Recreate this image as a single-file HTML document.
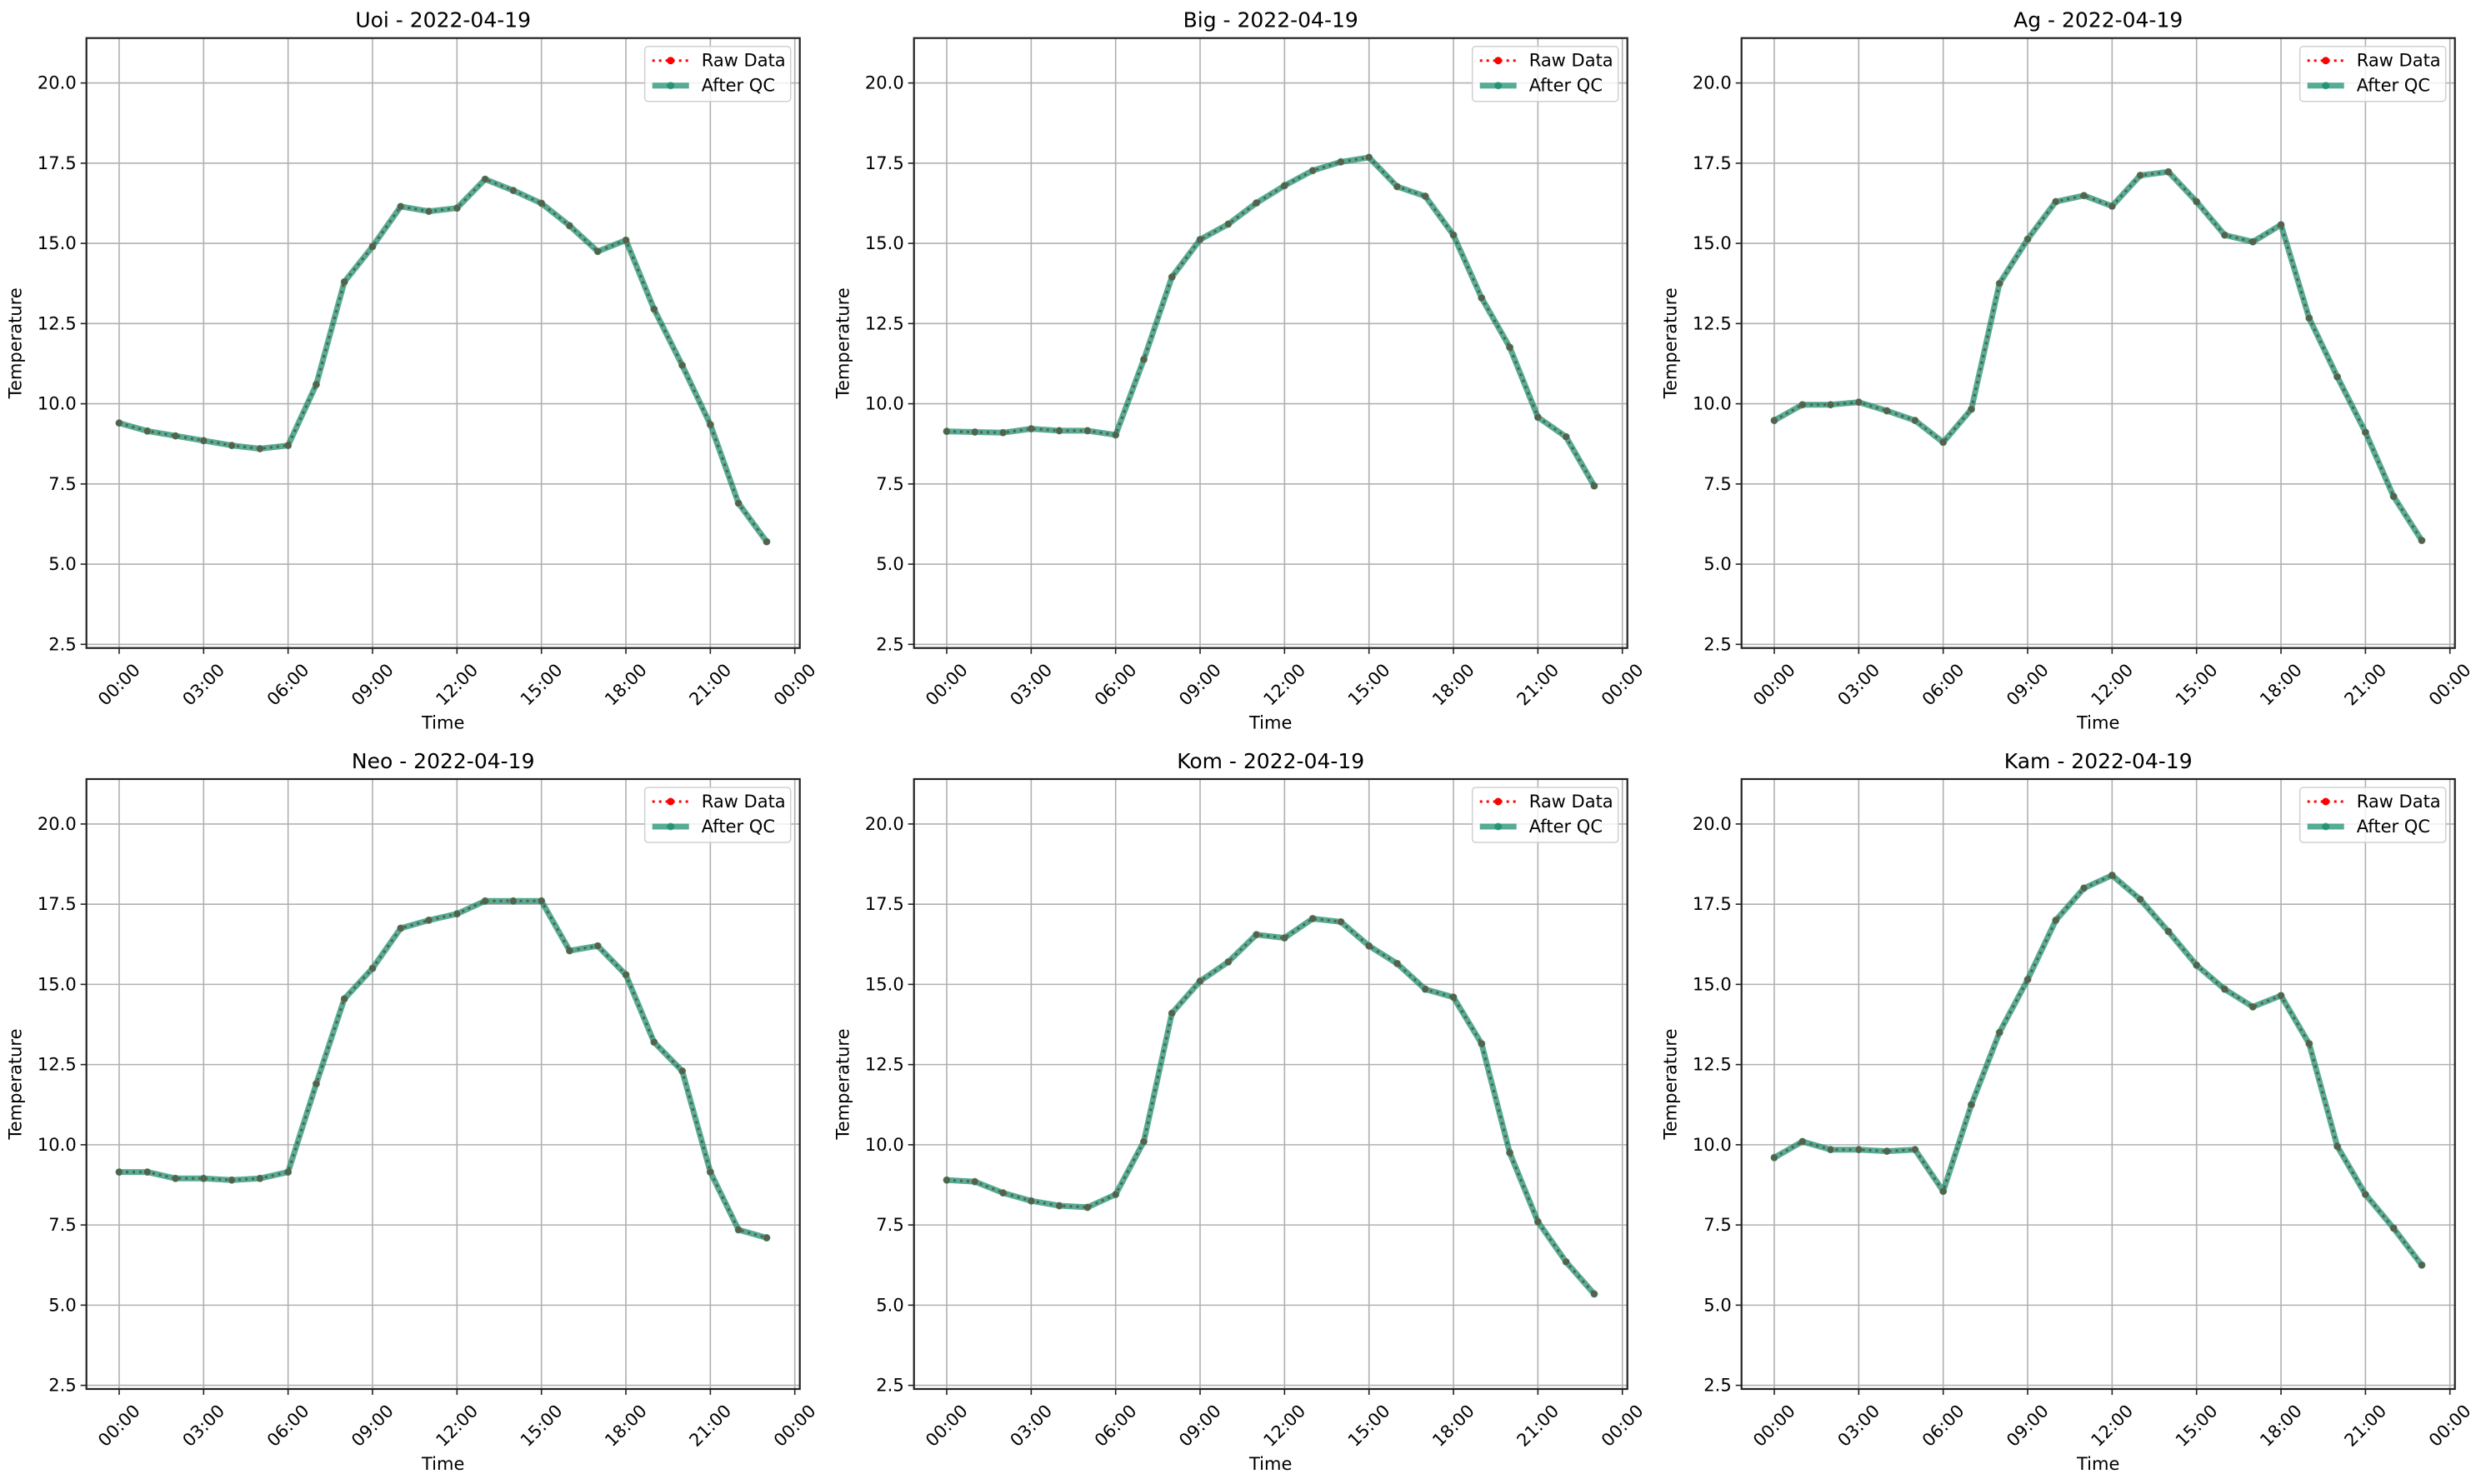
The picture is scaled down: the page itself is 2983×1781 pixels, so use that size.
<!DOCTYPE html>
<html><head><meta charset="utf-8"><style>
html,body{margin:0;padding:0;background:#fff;}
svg{display:block;font-family:"DejaVu Sans","Liberation Sans",sans-serif;}
</style></head><body>
<svg id="fig" width="2983" height="1781" viewBox="0 0 2983 1781" xmlns="http://www.w3.org/2000/svg"></svg>
<script>
const stations = ["Uoi","Big","Ag","Neo","Kom","Kam"];
const dateLabel = "2022-04-19";
const hours = [0,1,2,3,4,5,6,7,8,9,10,11,12,13,14,15,16,17,18,19,20,21,22,23];
const tempUoi = [9.4,9.15,9.0,8.85,8.7,8.6,8.7,10.6,13.8,14.9,16.15,16.0,16.1,17.0,16.65,16.25,15.55,14.75,15.1,12.95,11.2,9.35,6.9,5.7];
const tempBig = [9.14,9.12,9.1,9.22,9.16,9.16,9.03,11.38,13.95,15.12,15.6,16.26,16.8,17.27,17.54,17.68,16.77,16.47,15.26,13.3,11.76,9.58,8.97,7.44];
const tempAg = [9.48,9.97,9.97,10.05,9.78,9.48,8.8,9.83,13.75,15.13,16.3,16.49,16.16,17.12,17.23,16.3,15.26,15.05,15.58,12.67,10.84,9.11,7.11,5.74];
const tempNeo = [9.15,9.15,8.95,8.95,8.9,8.95,9.15,11.9,14.55,15.5,16.75,17.0,17.2,17.6,17.6,17.6,16.05,16.2,15.3,13.2,12.3,9.15,7.35,7.1];
const tempKom = [8.9,8.85,8.5,8.25,8.1,8.05,8.45,10.1,14.1,15.1,15.7,16.55,16.45,17.05,16.95,16.2,15.65,14.85,14.6,13.15,9.75,7.6,6.35,5.35];
const tempKam = [9.6,10.1,9.85,9.85,9.8,9.85,8.55,11.25,13.5,15.15,17.0,18.0,18.4,17.65,16.65,15.6,14.85,14.3,14.65,13.15,9.95,8.45,7.4,6.25];
const yTicks = [2.5,5.0,7.5,10.0,12.5,15.0,17.5,20.0];
const xTickHours = [0,3,6,9,12,15,18,21,24];
const xTickLabels = ["00:00","03:00","06:00","09:00","12:00","15:00","18:00","21:00","00:00"];

const series = [tempUoi,tempBig,tempAg,tempNeo,tempKom,tempKam];
const NS = "http://www.w3.org/2000/svg";
const svg = document.getElementById("fig");
function mk(tag, attrs, parent){const e=document.createElementNS(NS,tag);for(const k in attrs)e.setAttribute(k,attrs[k]);(parent||svg).appendChild(e);return e;}

const colX=[103.7,1096.7,2089.7], rowY=[45.7,935];
const W=856, H=732;
const yMin=2.386, yMax=21.40;

series.forEach((data,i)=>{
  const L=colX[i%3], T=rowY[Math.floor(i/3)], R=L+W, B=T+H;
  const xs=h=>L+39.3+h*(810.7/24);
  const ys=v=>B-(v-yMin)/(yMax-yMin)*H;
  const g=mk("g",{});
  
  
  // grid
  xTickHours.forEach(h=>{const l=mk("line",{x1:xs(h),x2:xs(h),y1:T,y2:B,stroke:"#b0b0b0","stroke-width":1.6},g);
    });
  yTicks.forEach(v=>{const l=mk("line",{x1:L,x2:R,y1:ys(v),y2:ys(v),stroke:"#b0b0b0","stroke-width":1.6},g);
    });
  // raw data
  const pts=hours.map((h,k)=>xs(h).toFixed(1)+","+ys(data[k]).toFixed(1)).join(" ");
  const raw=mk("polyline",{points:pts,fill:"none",stroke:"#ff0000","stroke-width":3,"stroke-dasharray":"3,5"},g);
  
  hours.forEach((h,k)=>{const c=mk("circle",{cx:xs(h),cy:ys(data[k]),r:4,fill:"#ff0000"},g);
    });
  const qg=mk("g",{opacity:0.7},g);
  
  const qc=mk("polyline",{points:pts,fill:"none",stroke:"#0f8a68","stroke-width":7,"stroke-linejoin":"round"},qg);
  
  hours.forEach((h,k)=>{const c=mk("circle",{cx:xs(h),cy:ys(data[k]),r:4.5,fill:"#0f8a68"},qg);
    });
  // frame
  const fr=mk("rect",{x:L,y:T,width:W,height:H,fill:"none",stroke:"#222","stroke-width":2.2},g);
  
  // y ticks
  yTicks.forEach(v=>{
    mk("line",{x1:L-7,x2:L,y1:ys(v),y2:ys(v),stroke:"#222","stroke-width":1.6},g);
    const t=mk("text",{x:L-12,y:ys(v)+7,"text-anchor":"end","font-size":21,fill:"#000"},g);
    t.textContent=v.toFixed(1);
    
  });
  // x ticks
  xTickHours.forEach((h,k)=>{
    mk("line",{x1:xs(h),x2:xs(h),y1:B,y2:B+7,stroke:"#222","stroke-width":1.6},g);
    const cx=xs(h), cy=B+44;
    const t=mk("text",{x:cx,y:cy+7,"text-anchor":"middle","font-size":21,fill:"#000",transform:`rotate(-45 ${cx} ${cy})`},g);
    t.textContent=xTickLabels[k];
    
  });
  const xl=mk("text",{x:L+W/2,y:B+97,"text-anchor":"middle","font-size":21},g);
  xl.textContent="Time";
  const yl=mk("text",{x:0,y:0,"text-anchor":"middle","font-size":21,transform:`translate(${L-78} ${T+H/2}) rotate(-90)`},g);
  yl.textContent="Temperature";
  const tt=mk("text",{x:L+W/2,y:T-13,"text-anchor":"middle","font-size":25},g);
  tt.textContent=stations[i]+" - "+dateLabel;
  // legend
  const lg=mk("g",{},g);
  
  const lx=R-186, ly=T+10;
  mk("rect",{x:lx,y:ly,width:175,height:66,rx:4,fill:"#fff","fill-opacity":0.8,stroke:"#d0d0d0","stroke-width":1.5},lg);
  mk("line",{x1:lx+9,x2:lx+53,y1:ly+17,y2:ly+17,stroke:"#ff0000","stroke-width":3,"stroke-dasharray":"3,5"},lg);
  mk("circle",{cx:lx+31,cy:ly+17,r:4.5,fill:"#ff0000"},lg);
  const t1=mk("text",{x:lx+68,y:ly+24,"font-size":21},lg);t1.textContent="Raw Data";
  
  mk("line",{x1:lx+9,x2:lx+53,y1:ly+47,y2:ly+47,stroke:"#0f8a68","stroke-width":7,opacity:0.7},lg);
  mk("circle",{cx:lx+31,cy:ly+47,r:4.5,fill:"#0f8a68",opacity:0.7},lg);
  const t2=mk("text",{x:lx+68,y:ly+54,"font-size":21},lg);t2.textContent="After QC";
  
});
</script>
</body></html>
